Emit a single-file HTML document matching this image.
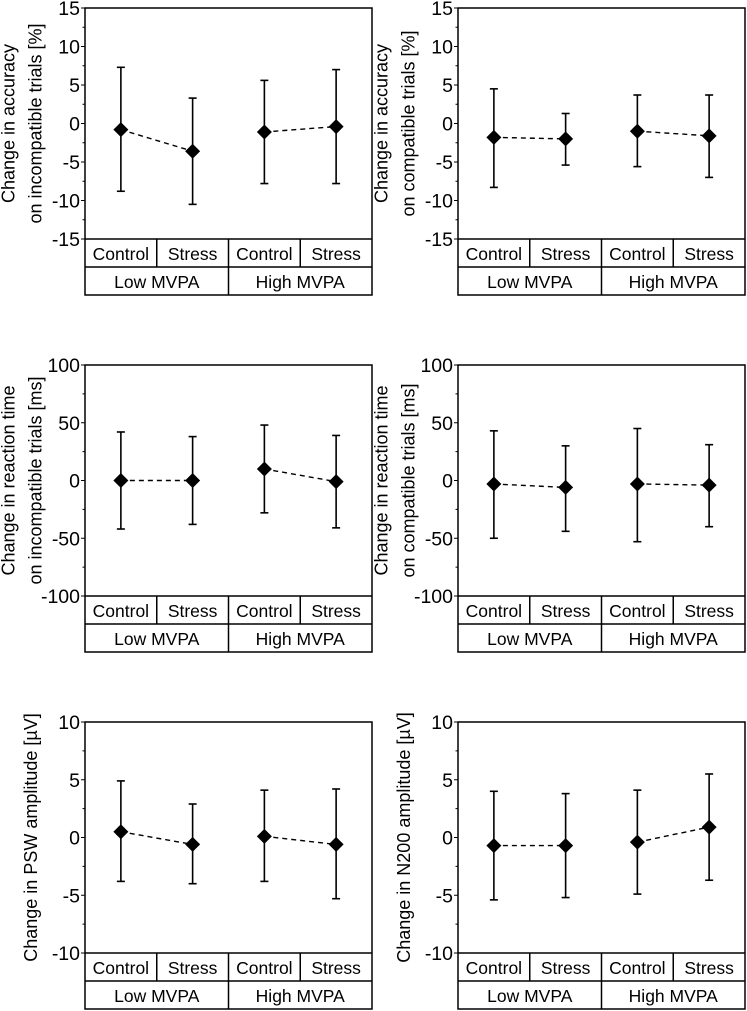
<!DOCTYPE html>
<html><head><meta charset="utf-8"><style>
html,body{margin:0;padding:0;background:#fff;}
svg{display:block;font-family:"Liberation Sans",Arial,sans-serif;}
</style></head><body>
<svg id="fig" width="747" height="1011" viewBox="0 0 747 1011"></svg>
<script>
const categories = ["Control","Stress","Control","Stress"];
const groups = ["Low MVPA","High MVPA"];
const titles = [["Change in accuracy","on incompatible trials [%]"],["Change in accuracy","on compatible trials [%]"],["Change in reaction time","on incompatible trials [ms]"],["Change in reaction time","on compatible trials [ms]"],["Change in PSW amplitude [µV]"],["Change in N200 amplitude [µV]"]];
const yMins = [-15,-15,-100,-100,-10,-10];
const yMaxs = [15,15,100,100,10,10];
const yTicks = [[-15,-10,-5,0,5,10,15],[-15,-10,-5,0,5,10,15],[-100,-50,0,50,100],[-100,-50,0,50,100],[-10,-5,0,5,10],[-10,-5,0,5,10]];
const means = [[-0.8,-3.6,-1.1,-0.4],[-1.8,-2.0,-1.0,-1.6],[0,0,10,-1],[-3,-6,-3,-4],[0.5,-0.6,0.1,-0.6],[-0.7,-0.7,-0.4,0.9]];
const uppers = [[7.3,3.3,5.6,7.0],[4.5,1.3,3.7,3.7],[42,38,48,39],[43,30,45,31],[4.9,2.9,4.1,4.2],[4.0,3.8,4.1,5.5]];
const lowers = [[-8.8,-10.5,-7.8,-7.8],[-8.3,-5.4,-5.6,-7.0],[-42,-38,-28,-41],[-50,-44,-53,-40],[-3.8,-4.0,-3.8,-5.3],[-5.4,-5.2,-4.9,-3.7]];

const NS="http://www.w3.org/2000/svg";
const svg=document.getElementById('fig');
function mk(tag,attrs,parent){const e=document.createElementNS(NS,tag);for(const k in attrs)e.setAttribute(k,attrs[k]);parent.appendChild(e);return e;}
const lefts=[85,458], tops=[8,365,722], W=287, H=231, RH=28;
for(let p=0;p<6;p++){
  const L=lefts[p%2], T=tops[Math.floor(p/2)], B=T+H, R=L+W;
  const g=mk('g',{},svg);
  
  
  const y=v=>B-(v-yMins[p])/(yMaxs[p]-yMins[p])*H;
  const x=i=>L+W*(i+0.5)/4;
  const frame=mk('rect',{x:L,y:T,width:W,height:H+2*RH,fill:'none',stroke:'#000','stroke-width':1.5},g);
  
  
  mk('line',{x1:L,y1:B,x2:R,y2:B,stroke:'#000','stroke-width':1.5},g);
  mk('line',{x1:L,y1:B+RH,x2:R,y2:B+RH,stroke:'#000','stroke-width':1.5},g);
  mk('line',{x1:L+W/2,y1:B,x2:L+W/2,y2:B+2*RH,stroke:'#000','stroke-width':1.5},g);
  mk('line',{x1:L+W/4,y1:B,x2:L+W/4,y2:B+RH,stroke:'#000','stroke-width':1.5},g);
  mk('line',{x1:L+3*W/4,y1:B,x2:L+3*W/4,y2:B+RH,stroke:'#000','stroke-width':1.5},g);
  categories.forEach((c,i)=>{const t=mk('text',{x:x(i),y:B+21,'text-anchor':'middle','font-size':17.5},g);t.textContent=c;
    });
  groups.forEach((c,i)=>{const t=mk('text',{x:L+W*(i*2+1)/4,y:B+RH+21,'text-anchor':'middle','font-size':17.5},g);t.textContent=c;
    });
  const tk=yTicks[p];
  tk.forEach((v,i)=>{
    mk('line',{x1:L-4,y1:y(v),x2:L,y2:y(v),stroke:'#000','stroke-width':1},g);
    if(i<tk.length-1){const m=(v+tk[i+1])/2;mk('line',{x1:L-2.5,y1:y(m),x2:L,y2:y(m),stroke:'#000','stroke-width':1},g);}
    const t=mk('text',{x:L-5,y:y(v)+7,'text-anchor':'end','font-size':19.5},g);t.textContent=v;
    
  });
  const tl=titles[p];
  const cx=L-(tl.length===2?57:48), cy=T+H/2;
  const t=mk('text',{transform:`translate(${cx},${cy}) rotate(-90)`,'text-anchor':'middle','font-size':18},g);
  
  tl.forEach((s,i)=>{const ts=mk('tspan',{x:0,y:(i-(tl.length-1)/2)*27},t);ts.textContent=s;});
  for(let k=0;k<2;k++){
    const a=2*k,b=2*k+1;
    const dl=mk('line',{x1:x(a),y1:y(means[p][a]),x2:x(b),y2:y(means[p][b]),stroke:'#000','stroke-width':1.4,'stroke-dasharray':'5,4'},g);
    
  }
  for(let i=0;i<4;i++){
    const eb=mk('g',{stroke:'#000','stroke-width':1.6},g);
    
    mk('line',{x1:x(i),y1:y(uppers[p][i]),x2:x(i),y2:y(lowers[p][i])},eb);
    mk('line',{x1:x(i)-4,y1:y(uppers[p][i]),x2:x(i)+4,y2:y(uppers[p][i])},eb);
    mk('line',{x1:x(i)-4,y1:y(lowers[p][i]),x2:x(i)+4,y2:y(lowers[p][i])},eb);
    const cy2=y(means[p][i]),d=7.5;
    const pt=mk('polygon',{points:`${x(i)},${cy2-d} ${x(i)+d},${cy2} ${x(i)},${cy2+d} ${x(i)-d},${cy2}`,fill:'#000'},g);
    
  }
}
</script>
</body></html>
